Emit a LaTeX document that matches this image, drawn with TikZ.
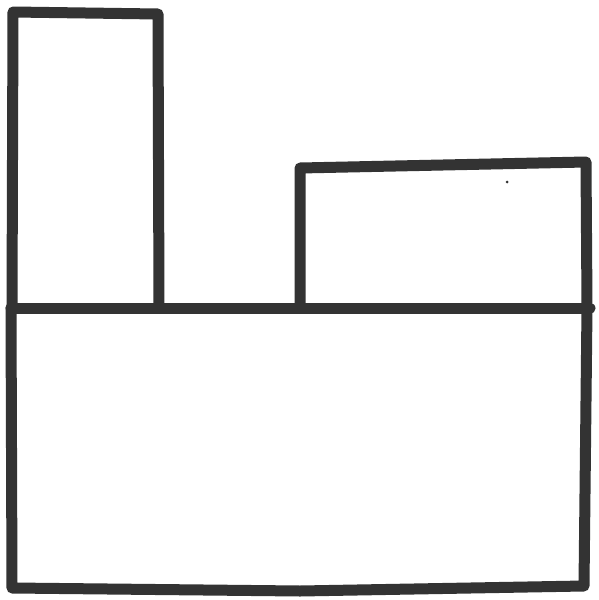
\documentclass[tikz,border=0pt]{standalone}
\begin{document}
\begin{tikzpicture}[x=1pt,y=-1pt,
  stroke/.style={draw=black!80,line width=11pt,line join=round,line cap=round}]
\useasboundingbox[fill=white] (0,0) rectangle (598,600);
% tall left box
\draw[stroke] (12,308) -- (13,12) -- (158,14) -- (159,306);
% right box
\draw[stroke] (300,306) -- (300,168) -- (586,162) -- (587,306);
% middle line
\draw[stroke] (11,308) -- (590,308);
% lower box
\draw[stroke] (11,308) -- (12,588) -- (300,591) -- (584,586) -- (587,308);
\fill[black!80] (507,182) circle (1.5);
\end{tikzpicture}
\end{document}
